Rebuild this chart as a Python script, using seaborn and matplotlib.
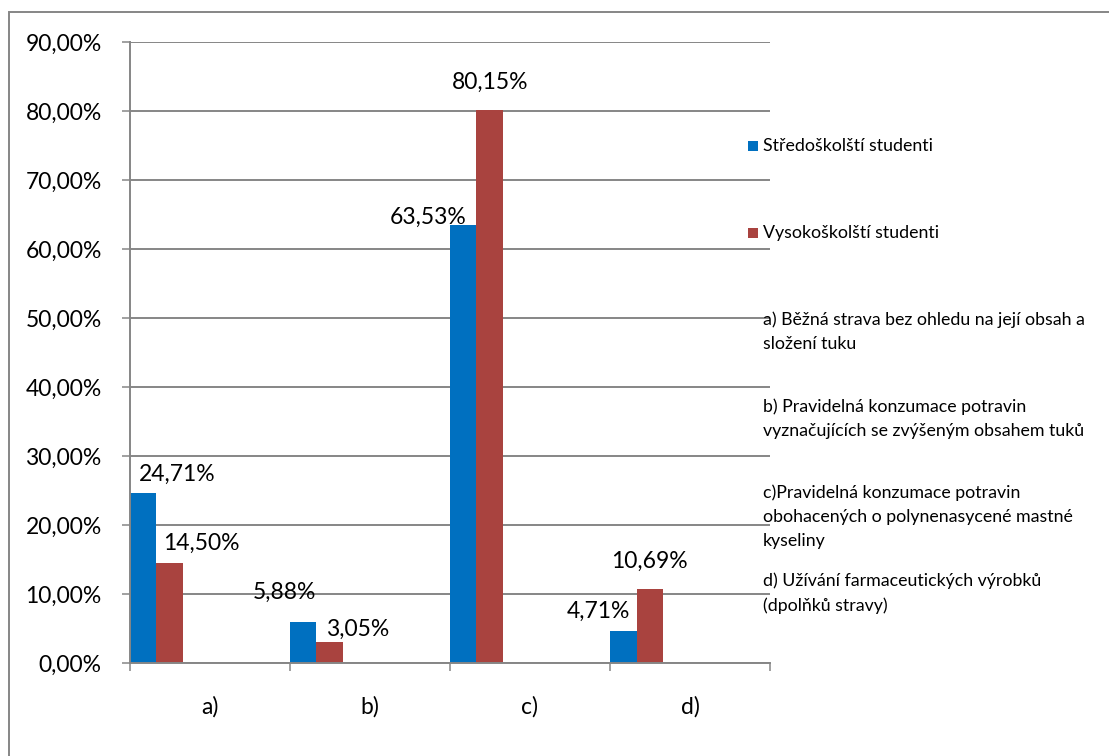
import numpy as np
import pandas as pd
import matplotlib
matplotlib.use("Agg")
import matplotlib.pyplot as plt
from matplotlib.patches import Rectangle
import seaborn as sns

# Data
categories = ["a)", "b)", "c)", "d)"]
series_names = ["Středoškolští studenti", "Vysokoškolští studenti"]
high_school = [24.71, 5.88, 63.53, 4.71]
university = [14.50, 3.05, 80.15, 10.69]
descriptions = [
    "a) Běžná strava bez ohledu na její obsah a\nsložení tuku",
    "b) Pravidelná konzumace potravin\nvyznačujících se zvýšeným obsahem tuků",
    "c)Pravidelná konzumace potravin\nobohacených o polynenasycené mastné\nkyseliny",
    "d) Užívání farmaceutických výrobků\n(dpolňků stravy)",
]
y_ticks = [0, 10, 20, 30, 40, 50, 60, 70, 80, 90]

colors = ["#0070C0", "#A9433F"]
grid_color = "#868686"

sns.set_theme(style="white")
plt.rcParams["font.family"] = ["Lato", "DejaVu Sans"]

# Long-form table: the two plotted series plus the four description series,
# which hold no values but keep their slots in each category group.
rows = []
for i, c in enumerate(categories):
    rows.append({"cat": c, "series": series_names[0], "value": high_school[i]})
    rows.append({"cat": c, "series": series_names[1], "value": university[i]})
    for d in descriptions:
        rows.append({"cat": c, "series": d, "value": np.nan})
df = pd.DataFrame(rows)
hue_order = series_names + descriptions
palette = dict(zip(hue_order, colors + ["#ffffff"] * len(descriptions)))

W, H = 1109, 756
fig = plt.figure(figsize=(W / 100, H / 100), dpi=100)
ax = fig.add_axes([129.5 / W, 1 - 663 / H, (770 - 129.5) / W, (663 - 42) / H])

sns.barplot(data=df, x="cat", y="value", hue="series", hue_order=hue_order,
            order=categories, palette=palette, width=1.0, dodge=True,
            errorbar=None, legend=False, ax=ax, saturation=1.0,
            edgecolor="none", linewidth=0)

ax.set_xlim(-0.5, 3.5)
ax.set_ylim(0, 90)
ax.set_yticks(y_ticks)
ax.set_yticklabels([f"{v:.2f}".replace(".", ",") + "%" for v in y_ticks],
                   fontsize=16.5, color="#000000")
ax.yaxis.grid(True, color=grid_color, linewidth=1.4)
ax.set_axisbelow(True)
ax.tick_params(axis="y", direction="out", length=6, width=1.1,
               color=grid_color, pad=14, left=True)

# Category labels centred, tick marks on category boundaries
ax.set_xticks(range(len(categories)))
ax.set_xticklabels(categories, fontsize=16.5, color="#000000")
ax.tick_params(axis="x", which="major", length=0, pad=24)
ax.set_xticks(np.arange(-0.5, len(categories), 1.0), minor=True)
ax.tick_params(axis="x", which="minor", direction="out", length=6,
               width=1.1, color=grid_color, bottom=True)
ax.set_xlabel("")
ax.set_ylabel("")

for side in ["top", "right"]:
    ax.spines[side].set_visible(False)
for side in ["left", "bottom"]:
    ax.spines[side].set_color(grid_color)
    ax.spines[side].set_linewidth(1.4)

# Value labels: text centre offset from each bar top (points)
label_offsets = {
    (0, 0): (25, 13), (0, 1): (23, 14),
    (1, 0): (-13, 22), (1, 1): (20, 9),
    (2, 0): (-25, 5), (2, 1): (0, 20),
    (3, 0): (-18, 14), (3, 1): (0, 20),
}
bar_w = 1.0 / len(hue_order)
for s, vals in enumerate([high_school, university]):
    for i, v in enumerate(vals):
        xc = i - 0.5 + bar_w * (s + 0.5)
        dx, dy = label_offsets[(i, s)]
        ax.annotate(f"{v:.2f}".replace(".", ",") + "%", xy=(xc, v),
                    xytext=(dx, dy), textcoords="offset points",
                    ha="center", va="center", fontsize=16.5, color="#000000")

# Legend column on the right
def px(x, y):
    return x / W, 1 - y / H

sq = 10
for name, col, yc in zip(series_names, colors, [146, 233]):
    fig.patches.append(Rectangle(px(748, yc + sq / 2), sq / W, sq / H,
                                 transform=fig.transFigure, facecolor=col,
                                 edgecolor="none"))
    fig.text(*px(763, yc), name, fontsize=12.8, va="center", ha="left",
             color="#000000")

desc_tops = [311, 398, 484, 572]
for d, yt in zip(descriptions, desc_tops):
    fig.text(*px(763, yt), d, fontsize=12.8, va="top", ha="left",
             color="#000000", linespacing=1.62)

# Chart frame
fig.patches.append(Rectangle(px(9, 770), (W + 20) / W, (770 - 12) / H,
                             transform=fig.transFigure, facecolor="none",
                             edgecolor=grid_color, linewidth=1.4))

fig.savefig("out.png", dpi=100, facecolor="white")
